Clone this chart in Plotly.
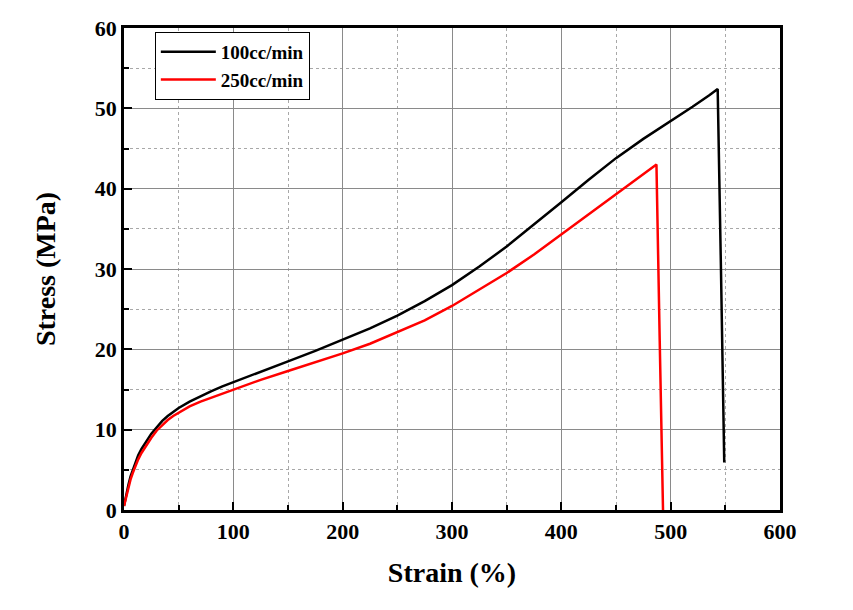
import plotly.graph_objects as go

strain_100 = [0, 2, 4, 6, 8, 10, 13, 16, 20, 25, 30, 35, 40, 45, 50, 60, 70, 80, 90, 100, 125, 150, 175, 200, 225, 250,
              275, 300, 325, 350, 375, 400, 425, 450, 475, 500, 520, 535, 543, 546, 549]
stress_100 = [0.5, 1.9, 3.1, 4.2, 5.0, 5.8, 6.8, 7.6, 8.5, 9.5, 10.3, 11.1, 11.7, 12.2, 12.7, 13.5, 14.2, 14.8, 15.4, 15.9,
              17.2, 18.5, 19.8, 21.2, 22.6, 24.2, 26.0, 28.0, 30.3, 32.8, 35.5, 38.3, 41.1, 43.8, 46.2, 48.4, 50.2, 51.6, 52.4, 30.0, 5.9]

strain_250 = [0, 2, 4, 6, 8, 10, 13, 16, 20, 25, 30, 35, 40, 45, 50, 60, 70, 80, 90, 100, 125, 150, 175, 200, 225, 250,
              275, 300, 325, 350, 375, 400, 425, 450, 470, 487, 490, 493]
stress_250 = [0.5, 1.6, 2.8, 3.8, 4.6, 5.3, 6.3, 7.1, 8.0, 9.0, 9.9, 10.6, 11.2, 11.7, 12.1, 12.9, 13.5, 14.0, 14.5, 15.0,
              16.2, 17.3, 18.4, 19.5, 20.7, 22.1, 23.6, 25.4, 27.4, 29.5, 31.8, 34.3, 36.8, 39.2, 41.2, 43.0, 21.0, 0]

FONT = "Liberation Serif"

fig = go.Figure()
fig.add_trace(go.Scatter(x=strain_100, y=stress_100, mode="lines", name="<b>100cc/min</b>",
                         line=dict(color="black", width=2.5)))
fig.add_trace(go.Scatter(x=strain_250, y=stress_250, mode="lines", name="<b>250cc/min</b>",
                         line=dict(color="red", width=2.5)))

axis_common = dict(
    showline=True, linecolor="black", linewidth=2.5, mirror=True,
    ticks="inside", ticklen=8, tickwidth=2, tickcolor="black",
    showgrid=True, gridcolor="#8a8a8a", gridwidth=1,
    zeroline=False, automargin=False,
    tickfont=dict(family=FONT, size=22, color="black", weight="bold"),
)
minor_common = dict(ticks="inside", ticklen=5, tickwidth=1.5, tickcolor="black",
                    showgrid=True, gridcolor="#a8a8a8", griddash="dot", gridwidth=1)

# page body has an 8px offset, so margins are shifted to compensate
fig.update_layout(
    width=853, height=610,
    paper_bgcolor="white", plot_bgcolor="white",
    margin=dict(l=116, r=81, t=20, b=108),
    showlegend=True,
    legend=dict(x=0.047, y=0.992, xanchor="left", yanchor="top",
                bgcolor="white", bordercolor="black", borderwidth=1,
                font=dict(family=FONT, size=19, color="black"),
                itemwidth=55, tracegroupgap=0),
    xaxis=dict(range=[0, 600], dtick=100, minor=dict(dtick=50, **minor_common),
               title=dict(text="<b>Strain (%)</b>", font=dict(family=FONT, size=28, color="black"), standoff=20),
               **axis_common),
    yaxis=dict(range=[0, 60], dtick=10, minor=dict(dtick=5, **minor_common),
               title=dict(text="<b>Stress (MPa)</b>", font=dict(family=FONT, size=28, color="black"), standoff=32),
               **axis_common),
)

fig.write_html("out.html")
